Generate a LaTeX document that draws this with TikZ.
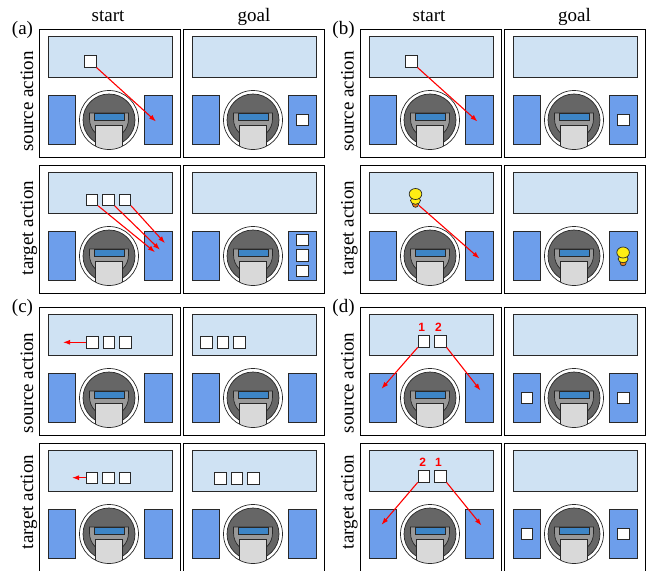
\documentclass[tikz,border=0pt]{standalone}
\usepackage{fontspec}
\setmainfont{Liberation Serif}
\newfontfamily\numfont{Liberation Sans}
\usepackage{tikz}
\usetikzlibrary{positioning, arrows.meta}
\definecolor{tableblue}{RGB}{207,226,243}
\definecolor{binblue}{RGB}{109,158,235}
\definecolor{barblue}{RGB}{61,133,198}
\definecolor{darkgrey}{RGB}{102,102,102}
\definecolor{midgrey}{RGB}{153,153,153}
\definecolor{lightgrey}{RGB}{217,217,217}
\definecolor{edgegrey}{RGB}{40,40,40}
\definecolor{toyyellow}{RGB}{255,238,20}
\definecolor{toyorange}{RGB}{236,128,24}

\tikzset{
  % top view of the robot base
  robot/.pic={
    \fill[white] (0,0) circle (29.5);
    \draw[part, fill=darkgrey] (0,0) circle (26);
    \draw[part, fill=midgrey] (-19.5,-7) -- (-19.5,-1) arc (180:0:19.5) -- (19.5,-7) -- cycle;
    \begin{scope}
      \clip (0,0) circle (29.5);
      \draw[part, fill=lightgrey] (-13.5,5.5) rectangle (13.5,31);
    \end{scope}
    \draw[part, fill=barblue] (-15,-6.5) rectangle (15,0.5);
    \draw[part] (0,0) circle (29.5);
  },
  % yellow toy seen from above
  toy/.pic={
    \draw[part, fill=toyorange] (0,10.5) ellipse (3 and 2.8);
    \draw[part, fill=toyyellow] (0,6.5) ellipse (5 and 3.8);
    \draw[part, fill=toyyellow] (0,0) ellipse (6.3 and 5.5);
    \coordinate (-tail) at (3.5,11.5);
  },
  % one cell: table, two bins, robot
  scene/.pic={
    \node[cellframe] (-frame) at (70.5,64) {};
    \node[tabletop] (-table) at (70.5,27.35) {};
    \node[bin] (-lbin) at (22.1,90.2) {};
    \node[bin] (-rbin) at (118.6,90.2) {};
    \pic at (69.5,90.5) {robot};
  },
}

\begin{document}
\begin{tikzpicture}[
  x=1pt, y=-1pt,
  every node/.style={font=\fontsize{19}{22}\selectfont},
  part/.style={draw=edgegrey, line width=0.7pt},
  cellframe/.style={draw=black, line width=1pt, minimum width=141pt,
    minimum height=128pt, inner sep=0pt},
  tabletop/.style={part, fill=tableblue, minimum width=124pt,
    minimum height=40.7pt, inner sep=0pt},
  bin/.style={part, fill=binblue, minimum width=27.5pt,
    minimum height=49.7pt, inner sep=0pt},
  block/.style={part, fill=white, minimum size=11.5pt, inner sep=0pt},
  move/.style={red, line width=1.1pt, -{Latex[length=7pt,width=5pt]}},
  order/.style={text=red, inner sep=0pt,
    font=\numfont\bfseries\fontsize{12}{13}\selectfont},
  head/.style={anchor=base},
  side/.style={rotate=90, anchor=base},
]
\useasboundingbox (0,0) rectangle (650,570);

% Column and row labels
\node[head] (hd-as) at (108,21.7) {start};
\node[head] (hd-ag) at (254,21.7) {goal};
\node[head] (hd-bs) at (429,21.7) {start};
\node[head] (hd-bg) at (574.5,21.7) {goal};

\node[head] (tag-a) at (22.5,34.8) {(a)};
\node[head] (tag-b) at (343.5,34.8) {(b)};
\node[head] (tag-c) at (22.5,312.8) {(c)};
\node[head] (tag-d) at (343.5,312.8) {(d)};

\node[side] (sd-a1) at (33,101.5) {source action};
\node[side] (sd-a2) at (33,228) {target action};
\node[side] (sd-b1) at (353.5,101.5) {source action};
\node[side] (sd-b2) at (353.5,228) {target action};
\node[side] (sd-c1) at (33,383) {source action};
\node[side] (sd-c2) at (33,502) {target action};
\node[side] (sd-d1) at (353.5,383) {source action};
\node[side] (sd-d2) at (353.5,502) {target action};

% (a) one block vs. three blocks into the right bin
\begin{scope}[shift={(39.5,29.5)}]
  \pic (a1s) {scene};
  \node[block] (a1s-b) at (51,32) {};
  \coordinate (a1s-t) at (116.5,92);
  \draw[move] (a1s-b.south east) -- (a1s-t);
\end{scope}
\begin{scope}[shift={(183.5,29.5)}]
  \pic (a1g) {scene};
  \node[block] (a1g-b) at (118.6,90.2) {};
\end{scope}
\begin{scope}[shift={(39.5,165.5)}]
  \pic (a2s) {scene};
  \node[block] (a2s-b1) at (52.5,34.2) {};
  \node[block] (a2s-b2) at (69,34.2) {};
  \node[block] (a2s-b3) at (85.5,34.2) {};
  \coordinate (a2s-t1) at (115.5,86.7);
  \coordinate (a2s-t2) at (120.5,84.3);
  \coordinate (a2s-t3) at (125.5,77.7);
  \draw[move] (a2s-b1.south east) -- (a2s-t1);
  \draw[move] (a2s-b2.south east) -- (a2s-t2);
  \draw[move] (a2s-b3.south east) -- (a2s-t3);
\end{scope}
\begin{scope}[shift={(183.5,165.5)}]
  \pic (a2g) {scene};
  \node[block] (a2g-b1) at (118.6,74.5) {};
  \node[block] (a2g-b2) at (118.6,90) {};
  \node[block] (a2g-b3) at (118.6,105.5) {};
\end{scope}

% (b) block vs. toy
\begin{scope}[shift={(360.5,29.5)}]
  \pic (b1s) {scene};
  \node[block] (b1s-b) at (51,32) {};
  \coordinate (b1s-t) at (117,92);
  \draw[move] (b1s-b.south east) -- (b1s-t);
\end{scope}
\begin{scope}[shift={(504.5,29.5)}]
  \pic (b1g) {scene};
  \node[block] (b1g-b) at (118.6,90.2) {};
\end{scope}
\begin{scope}[shift={(360.5,165.5)}]
  \pic (b2s) {scene};
  \pic (b2s-o) at (55,28.5) {toy};
  \coordinate (b2s-t) at (119,93);
  \draw[move] (b2s-o-tail) -- (b2s-t);
\end{scope}
\begin{scope}[shift={(504.5,165.5)}]
  \pic (b2g) {scene};
  \pic (b2g-o) at (118.6,87) {toy};
\end{scope}

% (c) sliding the row to the left
\begin{scope}[shift={(39.5,307.5)}]
  \pic (c1s) {scene};
  \node[block] (c1s-b1) at (52.7,34.8) {};
  \node[block] (c1s-b2) at (69.2,34.8) {};
  \node[block] (c1s-b3) at (85.7,34.8) {};
  \coordinate (c1s-t) at (23.5,34.8);
  \draw[move] (c1s-b1.west) -- (c1s-t);
\end{scope}
\begin{scope}[shift={(183.5,307.5)}]
  \pic (c1g) {scene};
  \node[block] (c1g-b1) at (22.7,34.8) {};
  \node[block] (c1g-b2) at (39.2,34.8) {};
  \node[block] (c1g-b3) at (55.7,34.8) {};
\end{scope}
\begin{scope}[shift={(39.5,443.5)}]
  \pic (c2s) {scene};
  \node[block] (c2s-b1) at (52.5,34.2) {};
  \node[block] (c2s-b2) at (69,34.2) {};
  \node[block] (c2s-b3) at (85.5,34.2) {};
  \coordinate (c2s-t) at (32.5,34.2);
  \draw[move] (c2s-b1.west) -- (c2s-t);
\end{scope}
\begin{scope}[shift={(183.5,443.5)}]
  \pic (c2g) {scene};
  \node[block] (c2g-b1) at (37,34.8) {};
  \node[block] (c2g-b2) at (53.5,34.8) {};
  \node[block] (c2g-b3) at (70,34.8) {};
\end{scope}

% (d) two blocks, order swapped
\begin{scope}[shift={(360.5,307.5)}]
  \pic (d1s) {scene};
  \node[block] (d1s-b1) at (63.3,33.8) {};
  \node[block] (d1s-b2) at (80,33.8) {};
  \node[order, above=4pt of d1s-b1, xshift=-2pt] (d1s-n1) {1};
  \node[order, above=4pt of d1s-b2, xshift=-2pt] (d1s-n2) {2};
  \coordinate (d1s-t1) at (21,81.3);
  \coordinate (d1s-t2) at (120,83);
  \draw[move] (d1s-b1.south west) -- (d1s-t1);
  \draw[move] (d1s-b2.south east) -- (d1s-t2);
\end{scope}
\begin{scope}[shift={(504.5,307.5)}]
  \pic (d1g) {scene};
  \node[block] (d1g-b1) at (22.1,90.2) {};
  \node[block] (d1g-b2) at (118.6,90.2) {};
\end{scope}
\begin{scope}[shift={(360.5,443.5)}]
  \pic (d2s) {scene};
  \node[block] (d2s-b1) at (63.3,32.8) {};
  \node[block] (d2s-b2) at (80,32.8) {};
  \node[order, above=4pt of d2s-b1, xshift=-1pt] (d2s-n2) {2};
  \node[order, above=4pt of d2s-b2, xshift=-2pt] (d2s-n1) {1};
  \coordinate (d2s-t1) at (21,81.3);
  \coordinate (d2s-t2) at (121,82);
  \draw[move] (d2s-b1.south west) -- (d2s-t1);
  \draw[move] (d2s-b2.south east) -- (d2s-t2);
\end{scope}
\begin{scope}[shift={(504.5,443.5)}]
  \pic (d2g) {scene};
  \node[block] (d2g-b1) at (22.1,90.2) {};
  \node[block] (d2g-b2) at (118.6,90.2) {};
\end{scope}

\end{tikzpicture}
\end{document}
